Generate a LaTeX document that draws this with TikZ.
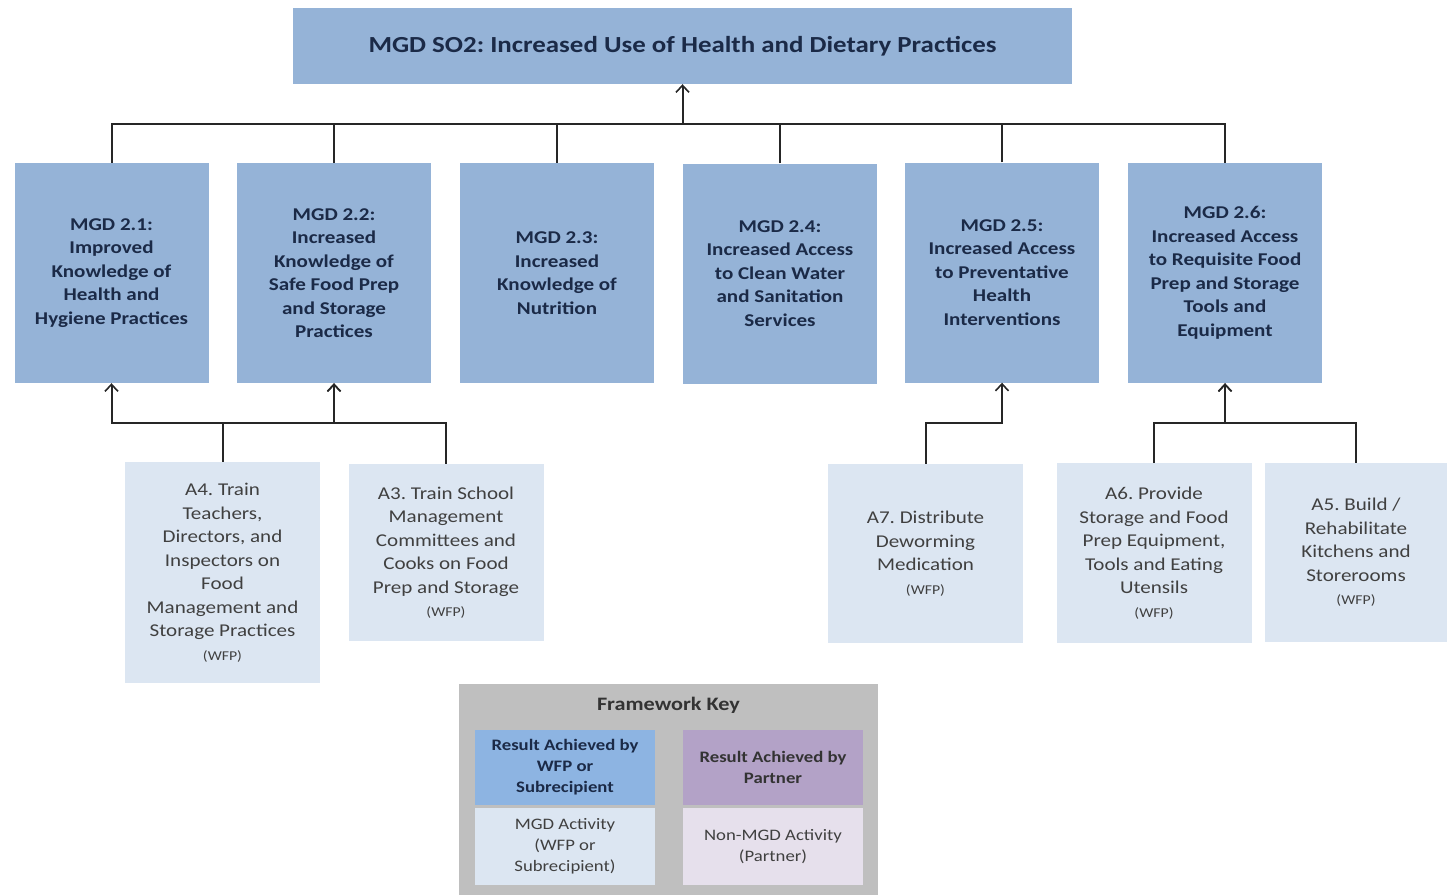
\documentclass[tikz,border=0pt]{standalone}
\usepackage{fontspec}
\setmainfont{Carlito}[FakeStretch=1.17]
\usetikzlibrary{arrows.meta}
\definecolor{resblue}{HTML}{95B3D7}
\definecolor{actblue}{HTML}{DCE6F2}
\definecolor{keygray}{HTML}{BFBFBF}
\definecolor{keyblue}{HTML}{8DB4E2}
\definecolor{keypurple}{HTML}{B3A2C7}
\definecolor{keylilac}{HTML}{E6E0EC}
\definecolor{navytext}{HTML}{1B2A47}
\definecolor{graytext}{HTML}{404040}
\frenchspacing
\begin{document}
\begin{tikzpicture}[x=1pt, y=-1pt,
  result/.style={fill=resblue, minimum width=194pt, minimum height=220pt, inner sep=0pt,
    align=center, text=navytext, font=\fontsize{18}{23.5}\selectfont\bfseries},
  activity/.style={fill=actblue, minimum width=195pt, inner sep=0pt,
    align=center, text=graytext, font=\fontsize{18}{23.5}\selectfont},
  keybox/.style={minimum width=180pt, inner sep=0pt, align=center},
  link/.style={draw=black!85, line width=2pt},
  arr/.style={link, -{Straight Barb[length=7pt, width=13pt, line width=1.6pt]}}]
\useasboundingbox (0,0) rectangle (1447,894);
\node[fill=resblue, minimum width=779pt, minimum height=76pt, inner sep=0pt, text=navytext,
  font=\fontsize{23}{27}\selectfont\bfseries] (so2) at (682.5,46)
  {MGD SO2: Increased Use of Health and Dietary Practices};
\node[result] (m21) at (111.5,273) {MGD 2.1:\\Improved\\Knowledge of\\Health and\\Hygiene Practices};
\node[result] (m22) at (334,273) {MGD 2.2:\\Increased\\Knowledge of\\Safe Food Prep\\and Storage\\Practices};
\node[result] (m23) at (557,273) {MGD 2.3:\\Increased\\Knowledge of\\Nutrition};
\node[result] (m24) at (780,273.5) {MGD 2.4:\\Increased Access\\to Clean Water\\and Sanitation\\Services};
\node[result] (m25) at (1002,272.5) {MGD 2.5:\\Increased Access\\to Preventative\\Health\\Interventions};
\node[result] (m26) at (1225,273) {MGD 2.6:\\Increased Access\\to Requisite Food\\Prep and Storage\\Tools and\\Equipment};
\coordinate (hub) at (682.5,124);
\draw[arr] (hub) -- (so2.south);
\draw[link] (m21.north) |- (hub) -| (m26.north);
\foreach \n in {m22,m23,m24,m25}
  \draw[link] (\n.north) -- (\n.north |- hub);
\node[activity, minimum height=221pt] (a4) at (222.5,572.5)
  {A4. Train\\Teachers,\\Directors, and\\Inspectors on\\Food\\Management and\\Storage Practices\\{\fontsize{13.5}{17}\selectfont (WFP)}};
\node[activity, minimum height=177pt] (a3) at (446,552.5)
  {A3. Train School\\Management\\Committees and\\Cooks on Food\\Prep and Storage\\{\fontsize{13.5}{17}\selectfont (WFP)}};
\node[activity, minimum height=179pt] (a7) at (925.5,553.5)
  {A7. Distribute\\Deworming\\Medication\\{\fontsize{13.5}{17}\selectfont (WFP)}};
\node[activity, minimum height=180pt] (a6) at (1154,553)
  {A6. Provide\\Storage and Food\\Prep Equipment,\\Tools and Eating\\Utensils\\{\fontsize{13.5}{17}\selectfont (WFP)}};
\node[activity, minimum width=182pt, minimum height=179pt] (a5) at (1356,552.5)
  {A5. Build /\\Rehabilitate\\Kitchens and\\Storerooms\\{\fontsize{13.5}{17}\selectfont (WFP)}};
\coordinate (j2) at (334,423);
\coordinate (j5) at (1002,423);
\coordinate (j6) at (1225,423);
\draw[arr] (a4.north) |- (j2) -- (m22.south);
\draw[arr] (a3.north) |- (j2) -- (m22.south);
\draw[arr] (j2) -| (m21.south);
\draw[arr] (a7.north) |- (j5) -- (m25.south);
\draw[arr] (a6.north) |- (j6) -- (m26.south);
\draw[arr] (a5.north) |- (j6) -- (m26.south);
\node[fill=keygray, minimum width=419pt, minimum height=212pt, inner sep=0pt] (key) at (668.5,790) {};
\node[font=\fontsize{19}{22}\selectfont\bfseries, text=black!80] (keyttl) at (668.5,705) {Framework Key};
\node[keybox, fill=keyblue, minimum height=75pt, text=navytext,
  font=\fontsize{16}{21}\selectfont\bfseries] (kres1) at (565,767.5) {Result Achieved by\\WFP or\\Subrecipient};
\node[keybox, fill=actblue, minimum height=77pt, text=graytext,
  font=\fontsize{16}{21}\selectfont] (kact1) at (565,846.5) {MGD Activity\\(WFP or\\Subrecipient)};
\node[keybox, fill=keypurple, minimum height=75pt, text=black!80,
  font=\fontsize{16}{21}\selectfont\bfseries] (kres2) at (773,767.5) {Result Achieved by\\Partner};
\node[keybox, fill=keylilac, minimum height=77pt, text=graytext,
  font=\fontsize{16}{21}\selectfont] (kact2) at (773,846.5) {Non-MGD Activity\\(Partner)};
\end{tikzpicture}
\end{document}
